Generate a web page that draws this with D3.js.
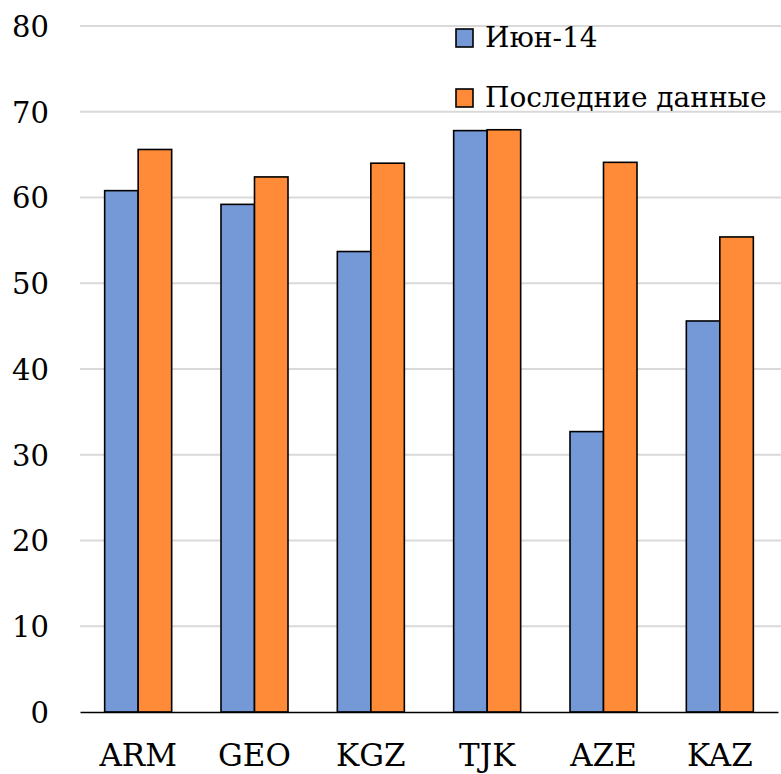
<!DOCTYPE html>
<html>
<head>
<meta charset="utf-8">
<script src="https://cdn.jsdelivr.net/npm/d3@7"></script>
<style>
  html, body { margin: 0; padding: 0; background: #fff; }
  svg { display: block; }
</style>
</head>
<body>
<svg id="chart" width="781" height="774"></svg>
<script>
// Country codes along the x axis
const categories = ["ARM", "GEO", "KGZ", "TJK", "AZE", "KAZ"];
// Series names as shown in the legend
const seriesNames = ["Июн-14", "Последние данные"];
// Values per series, one per country
const jun14 = [60.8, 59.2, 53.7, 67.8, 32.7, 45.6];
const latest = [65.6, 62.4, 64.0, 67.9, 64.1, 55.4];
// Y axis ticks
const yTicks = [0, 10, 20, 30, 40, 50, 60, 70, 80];

const colors = ["#7598D7", "#FF8A38"];
const seriesValues = [jun14, latest];
const FONT = "'DejaVu Serif', serif";

const svg = d3.select("#chart");
const margin = { left: 80, right: 3, top: 26, bottom: 62 };
const W = 781, H = 774;

const x = d3.scaleBand()
  .domain(categories)
  .range([margin.left, W - margin.right])
  .paddingInner(0.424)
  .paddingOuter(0.212);

const xs = d3.scaleBand()
  .domain(d3.range(seriesNames.length))
  .range([0, x.bandwidth()]);

const y = d3.scaleLinear()
  .domain([0, 80])
  .range([H - margin.bottom, margin.top]);

// Horizontal gridlines
svg.append("g")
  .selectAll("line")
  .data(yTicks.filter(d => d > 0))
  .join("line")
  .attr("x1", margin.left)
  .attr("x2", W)
  .attr("y1", d => y(d))
  .attr("y2", d => y(d))
  .attr("stroke", "#D9D9D9")
  .attr("stroke-width", 2);

// Y tick labels
const yAxis = d3.axisLeft(y).tickValues(yTicks).tickSize(0).tickPadding(0);
const gy = svg.append("g")
  .attr("transform", `translate(49,0)`)
  .call(yAxis)
  .attr("font-family", null)
  .attr("font-size", null);
gy.select(".domain").remove();
gy.selectAll("text")
  .style("font-family", FONT)
  .style("font-size", "29px")
  .attr("fill", "#000")
  .attr("dy", "0.36em")
  .attr("text-anchor", "end");

// Bars
const groups = svg.append("g")
  .selectAll("g")
  .data(categories)
  .join("g")
  .attr("transform", d => `translate(${x(d)},0)`);

groups.selectAll("rect")
  .data((d, i) => seriesValues.map((vals, s) => ({ s, v: vals[i] })))
  .join("rect")
  .attr("x", d => xs(d.s))
  .attr("width", xs.bandwidth())
  .attr("y", d => y(d.v))
  .attr("height", d => y(0) - y(d.v))
  .attr("fill", d => colors[d.s])
  .attr("stroke", "#000")
  .attr("stroke-width", 1.6);

// X axis line and labels
const xAxis = d3.axisBottom(x).tickSize(0).tickPadding(0);
const gx = svg.append("g")
  .attr("transform", `translate(0,${y(0)})`)
  .call(xAxis)
  .attr("font-family", null)
  .attr("font-size", null);
gx.select(".domain")
  .attr("stroke", "#000")
  .attr("stroke-width", 1.6);
gx.selectAll("text")
  .style("font-family", FONT)
  .style("font-size", "31px")
  .attr("fill", "#000")
  .attr("y", 54)
  .attr("dy", 0);

// Legend: swatch bottoms sit on the text baseline
const legend = svg.append("g");
const legendRows = [47, 107];
seriesNames.forEach((name, i) => {
  const g = legend.append("g").attr("transform", `translate(456,${legendRows[i]})`);
  g.append("rect")
    .attr("x", 0).attr("y", -18)
    .attr("width", 17).attr("height", 18)
    .attr("fill", colors[i])
    .attr("stroke", "#000")
    .attr("stroke-width", 1.6);
  g.append("text")
    .attr("x", 29)
    .attr("y", 0)
    .style("font-family", FONT)
    .style("font-size", "28px")
    .attr("fill", "#000")
    .text(name);
});
</script>
</body>
</html>
